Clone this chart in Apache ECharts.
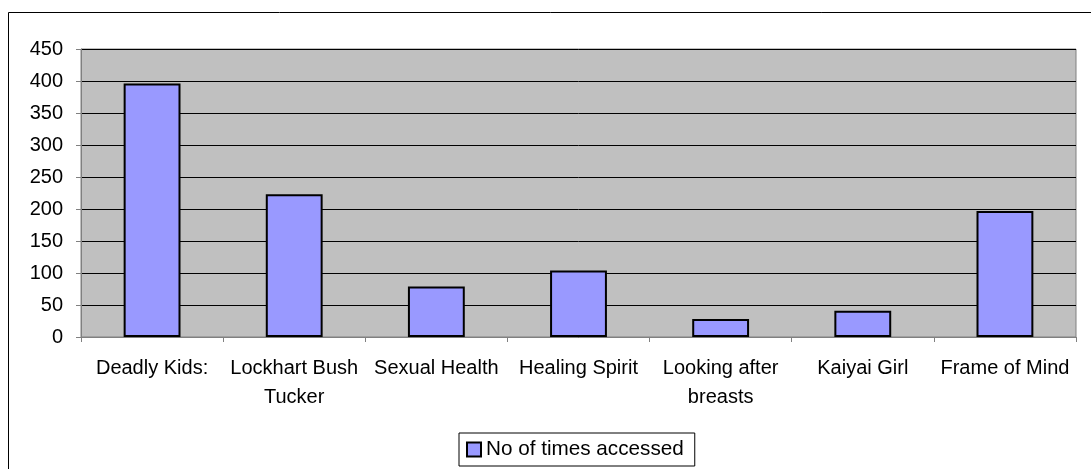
<!DOCTYPE html>
<html>
<head>
<meta charset="utf-8">
<script src="https://cdn.jsdelivr.net/npm/echarts@6/dist/echarts.min.js"></script>
<style>
  html, body { margin: 0; padding: 0; background: #fff; }
  #chart { width: 1091px; height: 469px; }
</style>
</head>
<body>
<div id="chart"></div>
<script>
const categories = ['Deadly Kids:', 'Lockhart Bush\nTucker', 'Sexual Health', 'Healing Spirit', 'Looking after\nbreasts', 'Kaiyai Girl', 'Frame of Mind'];
const accessed = [396, 223, 79, 104, 28, 41, 197];
const seriesName = 'No of times accessed';

const chart = echarts.init(document.getElementById('chart'));

const option = {
  animation: false,
  textStyle: { fontFamily: 'Liberation Sans, Arial, sans-serif' },
  graphic: [
    {
      type: 'rect',
      shape: { x: 8.5, y: 12.5, width: 1100, height: 480 },
      style: { fill: 'none', stroke: '#000', lineWidth: 1 },
      silent: true
    }
  ],
  grid: {
    left: 81,
    right: 15,
    top: 49,
    bottom: 132,
    show: true,
    backgroundColor: '#C0C0C0',
    borderColor: '#808080',
    borderWidth: 1
  },
  legend: {
    data: [seriesName],
    left: 459,
    top: 433,
    icon: 'rect',
    itemWidth: 14,
    itemHeight: 14,
    itemGap: 4,
    padding: [6, 11, 6, 7],
    borderColor: '#000',
    borderWidth: 1,
    itemStyle: { borderColor: '#000', borderWidth: 2 },
    textStyle: { fontSize: 20.7, color: '#000' }
  },
  xAxis: {
    type: 'category',
    data: categories,
    axisLine: { lineStyle: { color: '#808080' } },
    axisTick: { show: true, length: 5, lineStyle: { color: '#808080' } },
    axisLabel: { color: '#000', fontSize: 20, lineHeight: 29, margin: 17, interval: 0 }
  },
  yAxis: {
    type: 'value',
    min: 0,
    max: 450,
    interval: 50,
    axisLine: { show: true, lineStyle: { color: '#808080' } },
    axisTick: { show: true, length: 5, lineStyle: { color: '#808080' } },
    axisLabel: { color: '#000', fontSize: 20, margin: 18 },
    splitLine: { lineStyle: { color: '#000', width: 1 } }
  },
  series: [
    {
      name: seriesName,
      type: 'bar',
      data: accessed,
      barWidth: '40%',
      itemStyle: { color: '#9999FF', borderColor: '#000', borderWidth: 2 }
    }
  ]
};

chart.setOption(option);
</script>
</body>
</html>
